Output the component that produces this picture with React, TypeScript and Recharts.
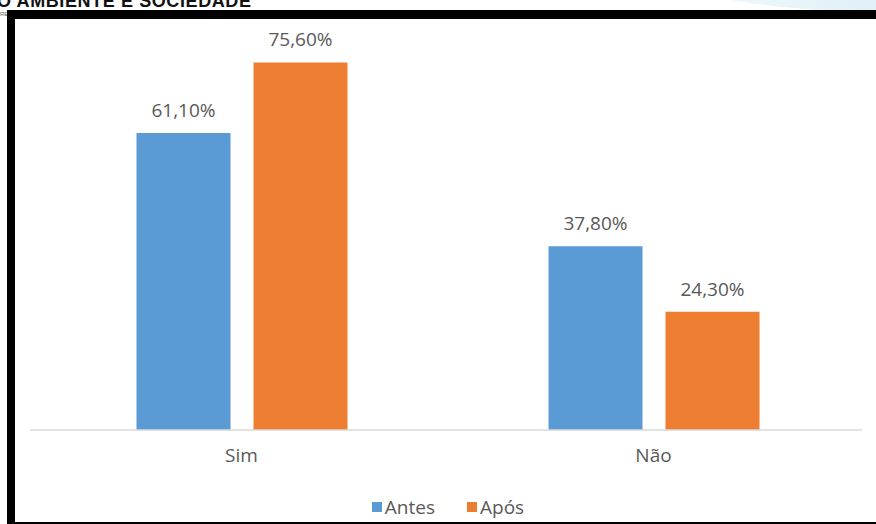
import React from 'react'
import { BarChart, Bar, XAxis, YAxis, Legend, LabelList } from 'recharts'

const categories = ['Sim', 'Não']
const antes = [61.1, 37.8]
const apos = [75.6, 24.3]
const seriesNames = ['Antes', 'Após']

const COLORS = ['#5B9BD5', '#ED7D31']
const TEXT = '#595959'
const FONT = '"Open Sans", "Noto Sans", sans-serif'

const data = categories.map((c, i) => ({ name: c, antes: antes[i], apos: apos[i] }))

const fmt = (v: unknown) => `${Number(v).toFixed(2).replace('.', ',')}%`

const LegendContent = (props: any) => {
  const items = props.payload || []
  return (
    <div style={{ height: 24, display: 'flex', justifyContent: 'center', alignItems: 'center', gap: 32, paddingLeft: 4 }}>
      {items.map((it: any) => (
        <div key={it.value} style={{ display: 'flex', alignItems: 'center', gap: 3, fontSize: 19, color: TEXT, fontFamily: FONT }}>
          <span style={{ width: 10, height: 10, background: it.color, display: 'inline-block' }} />
          <span>{it.value}</span>
        </div>
      ))}
    </div>
  )
}

export default function App() {
  return (
    <div style={{ position: 'absolute', left: 0, top: 0, width: 876, height: 524, overflow: 'hidden', background: '#fff' }}>
      {/* page header bits cropped above the figure */}
      <div style={{ position: 'absolute', left: 660, top: -74, width: 460, height: 86, borderRadius: '50%', background: 'linear-gradient(to right, #f6fbfd, #c6e4f1)' }} />
      <div style={{ position: 'absolute', left: -3, top: -9, fontFamily: '"Liberation Sans", sans-serif', fontWeight: 700, fontSize: 18, lineHeight: '20px', color: '#111', whiteSpace: 'nowrap', letterSpacing: 0.6 }}>
        O AMBIENTE E SOCIEDADE
      </div>
      <div style={{ position: 'absolute', left: 0, top: 11, fontFamily: '"Liberation Sans", sans-serif', fontSize: 6, lineHeight: '7px', color: '#666' }}>RE</div>

      <div style={{ position: 'absolute', left: 7, top: 10, width: 900, height: 520, boxSizing: 'border-box', borderLeft: '8px solid #000', borderTop: '9px solid #000', borderBottom: '8px solid #000', background: '#fff' }} />

      <div style={{ position: 'absolute', left: 0, top: 0 }}>
        <BarChart
          width={876}
          height={524}
          data={data}
          margin={{ top: 41, right: 14, left: 30, bottom: 5 }}
          barSize={94}
          barGap={23}
          style={{ fontFamily: FONT }}
        >
          <XAxis
            dataKey="name"
            axisLine={{ stroke: '#d9d9d9', strokeWidth: 1.5 }}
            tickLine={false}
            tickSize={0}
            tickMargin={19}
            height={65}
            padding={{ left: 5.5, right: 2.5 }}
            tick={{ fill: TEXT, fontSize: 19, fontFamily: FONT }}
          />
          <YAxis hide domain={[0, 80]} />
          <Legend verticalAlign="bottom" height={24} content={<LegendContent />} />
          <Bar dataKey="antes" name={seriesNames[0]} fill={COLORS[0]} isAnimationActive={false}>
            <LabelList dataKey="antes" position="top" offset={16} formatter={fmt} fill={TEXT} fontSize={19} fontFamily={FONT} />
          </Bar>
          <Bar dataKey="apos" name={seriesNames[1]} fill={COLORS[1]} isAnimationActive={false}>
            <LabelList dataKey="apos" position="top" offset={16} formatter={fmt} fill={TEXT} fontSize={19} fontFamily={FONT} />
          </Bar>
        </BarChart>
      </div>
    </div>
  )
}
